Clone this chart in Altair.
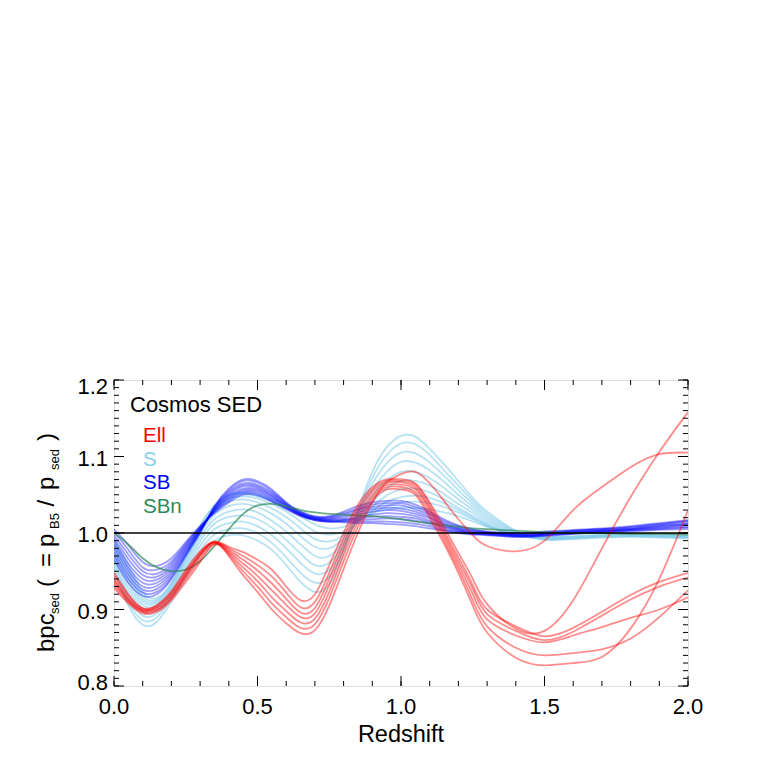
import altair as alt
import pandas as pd

# ---------------- data ----------------
Z = [0.00, 0.05, 0.10, 0.15, 0.20, 0.25, 0.30, 0.35, 0.40, 0.45, 0.50, 0.55,
     0.60, 0.65, 0.70, 0.75, 0.80, 0.85, 0.90, 0.95, 1.00, 1.05, 1.10, 1.15,
     1.20, 1.25, 1.30, 1.40, 1.50, 1.60, 1.70, 1.80, 1.90, 2.00]

ELL = {
    "ell1": [0.935, 0.912, 0.898, 0.900, 0.915, 0.945, 0.972, 0.988, 0.970, 0.945, 0.923, 0.900,
             0.882, 0.869, 0.873, 0.905, 0.953, 1.000, 1.040, 1.066, 1.077, 1.080, 1.065, 1.042,
             1.018, 0.997, 0.983, 0.976, 0.990, 1.030, 1.060, 1.086, 1.103, 1.105],
    "ell2": [0.948, 0.920, 0.902, 0.906, 0.924, 0.952, 0.976, 0.989, 0.982, 0.975, 0.965, 0.952,
             0.930, 0.912, 0.920, 0.958, 1.000, 1.037, 1.060, 1.070, 1.070, 1.065, 1.040, 1.008,
             0.974, 0.940, 0.907, 0.875, 0.872, 0.912, 0.980, 1.047, 1.106, 1.158],
    "ell3": [0.944, 0.918, 0.901, 0.905, 0.922, 0.949, 0.974, 0.988, 0.980, 0.970, 0.958, 0.943,
             0.922, 0.903, 0.910, 0.948, 0.993, 1.032, 1.057, 1.068, 1.068, 1.063, 1.037, 1.003,
             0.968, 0.932, 0.900, 0.878, 0.865, 0.876, 0.897, 0.919, 0.936, 0.948],
    "ell4": [0.940, 0.915, 0.900, 0.903, 0.920, 0.946, 0.972, 0.988, 0.978, 0.965, 0.951, 0.934,
             0.914, 0.896, 0.902, 0.940, 0.986, 1.027, 1.054, 1.066, 1.066, 1.060, 1.033, 0.999,
             0.963, 0.927, 0.894, 0.872, 0.860, 0.871, 0.892, 0.913, 0.930, 0.942],
    "ell5": [0.938, 0.913, 0.899, 0.902, 0.918, 0.943, 0.970, 0.987, 0.976, 0.960, 0.944, 0.925,
             0.906, 0.890, 0.895, 0.932, 0.979, 1.021, 1.050, 1.063, 1.063, 1.057, 1.030, 0.995,
             0.958, 0.920, 0.887, 0.866, 0.857, 0.866, 0.877, 0.889, 0.900, 0.916],
    "ell6": [0.932, 0.910, 0.897, 0.899, 0.915, 0.940, 0.966, 0.986, 0.974, 0.955, 0.937, 0.916,
             0.898, 0.883, 0.888, 0.923, 0.971, 1.015, 1.046, 1.060, 1.060, 1.053, 1.025, 0.990,
             0.953, 0.912, 0.878, 0.850, 0.840, 0.843, 0.848, 0.862, 0.890, 0.925],
    "ell7": [0.928, 0.908, 0.895, 0.897, 0.912, 0.936, 0.962, 0.985, 0.972, 0.950, 0.930, 0.908,
             0.890, 0.876, 0.881, 0.915, 0.963, 1.008, 1.042, 1.057, 1.057, 1.050, 1.020, 0.986,
             0.948, 0.905, 0.870, 0.837, 0.827, 0.830, 0.838, 0.875, 0.940, 1.030],
}

S = {
    "s0": [0.950, 0.905, 0.880, 0.884, 0.910, 0.940, 0.970, 0.990, 0.997, 0.997, 0.990, 0.978,
           0.958, 0.936, 0.923, 0.933, 0.975, 1.030, 1.080, 1.112, 1.127, 1.126, 1.110, 1.090,
           1.068, 1.046, 1.028, 1.003, 0.991, 0.992, 0.994, 0.995, 0.994, 0.993],
    "s1": [0.955, 0.910, 0.886, 0.890, 0.915, 0.946, 0.977, 0.998, 1.005, 1.006, 1.000, 0.987,
           0.968, 0.948, 0.935, 0.943, 0.978, 1.027, 1.072, 1.102, 1.117, 1.116, 1.102, 1.082,
           1.062, 1.042, 1.025, 1.002, 0.992, 0.993, 0.995, 0.996, 0.995, 0.994],
    "s2": [0.960, 0.916, 0.892, 0.895, 0.919, 0.951, 0.983, 1.005, 1.013, 1.015, 1.009, 0.997,
           0.980, 0.961, 0.947, 0.952, 0.982, 1.025, 1.064, 1.091, 1.105, 1.104, 1.092, 1.075,
           1.056, 1.038, 1.022, 1.001, 0.992, 0.993, 0.995, 0.996, 0.995, 0.994],
    "s3": [0.965, 0.922, 0.897, 0.899, 0.922, 0.955, 0.989, 1.012, 1.021, 1.023, 1.018, 1.007,
           0.991, 0.973, 0.958, 0.961, 0.985, 1.022, 1.056, 1.080, 1.093, 1.092, 1.082, 1.067,
           1.050, 1.034, 1.019, 1.000, 0.993, 0.994, 0.996, 0.997, 0.996, 0.995],
    "s4": [0.970, 0.928, 0.902, 0.903, 0.925, 0.959, 0.994, 1.018, 1.028, 1.031, 1.027, 1.016,
           1.002, 0.985, 0.970, 0.970, 0.989, 1.019, 1.048, 1.069, 1.080, 1.080, 1.072, 1.059,
           1.044, 1.030, 1.016, 0.999, 0.993, 0.994, 0.996, 0.997, 0.996, 0.995],
    "s5": [0.975, 0.934, 0.906, 0.906, 0.928, 0.963, 0.999, 1.024, 1.035, 1.038, 1.034, 1.025,
           1.012, 0.996, 0.982, 0.980, 0.993, 1.017, 1.040, 1.058, 1.068, 1.068, 1.062, 1.051,
           1.038, 1.026, 1.013, 0.998, 0.993, 0.994, 0.996, 0.997, 0.996, 0.995],
    "s6": [0.980, 0.940, 0.910, 0.909, 0.930, 0.966, 1.003, 1.029, 1.041, 1.044, 1.040, 1.032,
           1.021, 1.006, 0.992, 0.989, 0.997, 1.015, 1.034, 1.049, 1.057, 1.058, 1.053, 1.044,
           1.033, 1.022, 1.011, 0.997, 0.994, 0.995, 0.997, 0.998, 0.997, 0.996],
    "s7": [0.984, 0.946, 0.914, 0.911, 0.932, 0.968, 1.006, 1.032, 1.045, 1.048, 1.045, 1.038,
           1.028, 1.015, 1.002, 0.998, 1.002, 1.015, 1.029, 1.041, 1.047, 1.049, 1.046, 1.039,
           1.030, 1.020, 1.010, 0.997, 0.994, 0.995, 0.997, 0.998, 0.997, 0.996],
    "s8": [0.988, 0.952, 0.918, 0.913, 0.934, 0.970, 1.008, 1.035, 1.048, 1.051, 1.048, 1.042,
           1.033, 1.022, 1.011, 1.006, 1.008, 1.016, 1.026, 1.035, 1.040, 1.041, 1.039, 1.034,
           1.027, 1.018, 1.009, 0.997, 0.994, 0.995, 0.997, 0.998, 0.997, 0.996],
    "s9": [0.992, 0.958, 0.923, 0.915, 0.935, 0.971, 1.010, 1.036, 1.050, 1.053, 1.050, 1.045,
           1.037, 1.028, 1.020, 1.016, 1.016, 1.020, 1.026, 1.031, 1.033, 1.033, 1.031, 1.027,
           1.022, 1.015, 1.008, 0.998, 0.995, 0.996, 0.998, 0.999, 0.998, 0.997],
}

SB = {
    "b0": [0.965, 0.935, 0.918, 0.920, 0.940, 0.970, 1.000, 1.035, 1.058, 1.070, 1.068, 1.057,
           1.040, 1.028, 1.022, 1.022, 1.028, 1.035, 1.040, 1.042, 1.042, 1.037, 1.028, 1.018,
           1.010, 1.005, 1.002, 1.000, 1.002, 1.004, 1.006, 1.009, 1.013, 1.017],
    "b1": [0.970, 0.940, 0.922, 0.923, 0.942, 0.972, 1.001, 1.034, 1.056, 1.068, 1.066, 1.055,
           1.039, 1.027, 1.021, 1.021, 1.026, 1.032, 1.037, 1.039, 1.039, 1.034, 1.026, 1.016,
           1.009, 1.004, 1.001, 0.999, 1.001, 1.003, 1.005, 1.008, 1.012, 1.016],
    "b2": [0.975, 0.945, 0.926, 0.927, 0.945, 0.974, 1.002, 1.033, 1.054, 1.065, 1.063, 1.053,
           1.038, 1.026, 1.020, 1.020, 1.024, 1.030, 1.034, 1.036, 1.036, 1.031, 1.024, 1.014,
           1.007, 1.003, 1.001, 0.998, 1.000, 1.003, 1.005, 1.007, 1.011, 1.015],
    "b3": [0.980, 0.950, 0.930, 0.931, 0.948, 0.976, 1.003, 1.032, 1.052, 1.063, 1.061, 1.051,
           1.037, 1.025, 1.020, 1.019, 1.022, 1.027, 1.031, 1.033, 1.032, 1.028, 1.021, 1.012,
           1.006, 1.002, 1.000, 0.998, 0.999, 1.002, 1.004, 1.006, 1.010, 1.013],
    "b4": [0.985, 0.955, 0.935, 0.935, 0.951, 0.978, 1.004, 1.031, 1.050, 1.061, 1.059, 1.049,
           1.036, 1.025, 1.019, 1.018, 1.020, 1.024, 1.028, 1.030, 1.029, 1.025, 1.019, 1.011,
           1.005, 1.001, 1.000, 0.997, 0.999, 1.001, 1.003, 1.005, 1.009, 1.012],
    "b5": [0.989, 0.960, 0.940, 0.939, 0.954, 0.980, 1.005, 1.030, 1.048, 1.058, 1.057, 1.048,
           1.035, 1.024, 1.018, 1.017, 1.018, 1.021, 1.024, 1.026, 1.025, 1.022, 1.016, 1.009,
           1.004, 1.000, 0.999, 0.997, 0.998, 1.001, 1.003, 1.005, 1.008, 1.011],
    "b6": [0.993, 0.966, 0.945, 0.943, 0.957, 0.982, 1.006, 1.029, 1.046, 1.056, 1.055, 1.046,
           1.034, 1.024, 1.018, 1.016, 1.017, 1.019, 1.021, 1.022, 1.021, 1.019, 1.014, 1.008,
           1.003, 1.000, 0.999, 0.996, 0.998, 1.000, 1.002, 1.004, 1.007, 1.010],
    "b7": [0.997, 0.972, 0.950, 0.947, 0.960, 0.984, 1.007, 1.028, 1.044, 1.054, 1.053, 1.044,
           1.033, 1.023, 1.017, 1.015, 1.016, 1.017, 1.018, 1.019, 1.018, 1.016, 1.012, 1.006,
           1.002, 0.999, 0.998, 0.996, 0.997, 1.000, 1.002, 1.004, 1.006, 1.008],
    "b8": [1.001, 0.978, 0.955, 0.952, 0.963, 0.986, 1.008, 1.027, 1.042, 1.052, 1.051, 1.042,
           1.032, 1.023, 1.017, 1.015, 1.015, 1.015, 1.015, 1.015, 1.014, 1.012, 1.009, 1.004,
           1.001, 0.999, 0.998, 0.995, 0.997, 0.999, 1.001, 1.003, 1.005, 1.007],
    "b9": [1.005, 0.984, 0.962, 0.957, 0.967, 0.988, 1.009, 1.026, 1.040, 1.050, 1.049, 1.041,
           1.031, 1.022, 1.017, 1.015, 1.014, 1.013, 1.013, 1.012, 1.011, 1.009, 1.006, 1.003,
           1.000, 0.998, 0.997, 0.995, 0.996, 0.999, 1.001, 1.002, 1.004, 1.005],
}

SBN = {
    "n0": [1.000, 0.985, 0.967, 0.955, 0.950, 0.952, 0.963, 0.983, 1.005, 1.025, 1.036, 1.038,
           1.035, 1.030, 1.027, 1.025, 1.024, 1.023, 1.022, 1.020, 1.018, 1.015, 1.013, 1.010,
           1.008, 1.006, 1.005, 1.003, 1.001, 1.000, 1.000, 0.999, 0.999, 0.998],
}

X_TICKS = [0.0, 0.5, 1.0, 1.5, 2.0]
X_LABELS = ["0.0", "0.5", "1.0", "1.5", "2.0"]
Y_TICKS = [0.8, 0.9, 1.0, 1.1, 1.2]
Y_LABELS = ["0.8", "0.9", "1.0", "1.1", "1.2"]
LEGEND = [("Ell", "#ff0000"), ("S", "#87ceeb"), ("SB", "#0000ff"), ("SBn", "#2e8b57")]

# ---------------- layout ----------------
W, H = 574, 306
FONT = "Liberation Sans"
xs = alt.Scale(domain=[0, 2], nice=False, zero=False)
ys = alt.Scale(domain=[0.8, 1.2], nice=False, zero=False)


def family_df(curves):
    rows = []
    for name, vals in curves.items():
        for z, v in zip(Z, vals):
            rows.append({"z": z, "v": v, "curve": name})
    return pd.DataFrame(rows)


def lines(curves, color, opacity, width=1.8):
    return alt.Chart(family_df(curves)).mark_line(
        color=color, opacity=opacity, strokeWidth=width, interpolate="natural", clip=True
    ).encode(
        x=alt.X("z:Q", scale=xs, axis=None),
        y=alt.Y("v:Q", scale=ys, axis=None),
        detail="curve:N",
    )


def tick_rules(vals, length, side):
    d = pd.DataFrame({"t": vals})
    base = alt.Chart(d).mark_rule(color="black", strokeWidth=1)
    if side == "bottom":
        return base.encode(x=alt.X("t:Q", scale=xs, axis=None), y=alt.value(H), y2=alt.value(H - length))
    if side == "top":
        return base.encode(x=alt.X("t:Q", scale=xs, axis=None), y=alt.value(0), y2=alt.value(length))
    if side == "left":
        return base.encode(y=alt.Y("t:Q", scale=ys, axis=None), x=alt.value(0), x2=alt.value(length))
    return base.encode(y=alt.Y("t:Q", scale=ys, axis=None), x=alt.value(W), x2=alt.value(W - length))


x_minor = [round(i * 0.1, 2) for i in range(21)]
y_minor = [round(0.8 + i * 0.01, 2) for i in range(41)]
ticks = [
    tick_rules(X_TICKS, 10, "bottom"), tick_rules(X_TICKS, 10, "top"),
    tick_rules(x_minor, 5, "bottom"), tick_rules(x_minor, 5, "top"),
    tick_rules(Y_TICKS, 10, "left"), tick_rules(Y_TICKS, 10, "right"),
    tick_rules(y_minor, 5, "left"), tick_rules(y_minor, 5, "right"),
]

unity = alt.Chart(pd.DataFrame({"v": [1.0]})).mark_rule(color="black", strokeWidth=1.5).encode(
    y=alt.Y("v:Q", scale=ys, axis=None)
)

# tick labels drawn as text through the scales
xlab = alt.Chart(pd.DataFrame({"t": X_TICKS, "lab": X_LABELS})).mark_text(
    align="center", baseline="alphabetic", font=FONT, fontSize=22, color="black"
).encode(x=alt.X("t:Q", scale=xs, axis=None), y=alt.value(H + 28), text="lab:N")

ydf = pd.DataFrame({"t": Y_TICKS, "lab": Y_LABELS})
ylab_mid = alt.Chart(ydf[(ydf.t > 0.85) & (ydf.t < 1.15)]).mark_text(
    align="right", baseline="middle", font=FONT, fontSize=22, color="black", dy=2
).encode(y=alt.Y("t:Q", scale=ys, axis=None), x=alt.value(-6), text="lab:N")
ylab_top = alt.Chart(ydf[ydf.t > 1.15]).mark_text(
    align="right", baseline="middle", font=FONT, fontSize=22, color="black", dy=7
).encode(y=alt.Y("t:Q", scale=ys, axis=None), x=alt.value(-6), text="lab:N")
ylab_bot = alt.Chart(ydf[ydf.t < 0.85]).mark_text(
    align="right", baseline="middle", font=FONT, fontSize=22, color="black", dy=-3
).encode(y=alt.Y("t:Q", scale=ys, axis=None), x=alt.value(-6), text="lab:N")

texts = [
    alt.Chart(pd.DataFrame({"t": ["Redshift"]})).mark_text(
        align="center", baseline="alphabetic", font=FONT, fontSize=23.5, color="black"
    ).encode(text="t:N", x=alt.value(W / 2), y=alt.value(H + 56)),
    alt.Chart(pd.DataFrame({"t": ["Cosmos SED"]})).mark_text(
        align="left", baseline="alphabetic", font=FONT, fontSize=22, color="black"
    ).encode(text="t:N", x=alt.value(16), y=alt.value(32)),
]
for i, (lab, col) in enumerate(LEGEND):
    texts.append(
        alt.Chart(pd.DataFrame({"t": [lab]})).mark_text(
            align="left", baseline="alphabetic", font=FONT, fontSize=20.5, color=col
        ).encode(text="t:N", x=alt.value(29), y=alt.value(62 + i * 23.5))
    )

# y-axis title with subscripts (rotated pieces)
YT_X_MAIN = -60
YT_X_SUB = -55
pieces = [
    ("bpc", 24, YT_X_MAIN, 272),
    ("sed", 13, YT_X_SUB, 234),
    ("(", 24, YT_X_MAIN, 207),
    ("=", 24, YT_X_MAIN, 187),
    ("p", 24, YT_X_MAIN, 167),
    ("B5", 13, YT_X_SUB, 149),
    ("/", 24, YT_X_MAIN, 126.5),
    ("p", 24, YT_X_MAIN, 110),
    ("sed", 13, YT_X_SUB, 90),
    (")", 24, YT_X_MAIN, 61),
]
for txt, fs, px, py in pieces:
    texts.append(
        alt.Chart(pd.DataFrame({"t": [txt]})).mark_text(
            align="left", baseline="alphabetic", font=FONT, fontSize=fs, color="black", angle=270
        ).encode(text="t:N", x=alt.value(px), y=alt.value(py))
    )

chart = alt.layer(
    lines(S, "#87ceeb", 0.6),
    lines(SB, "#0000ff", 0.38),
    lines(SBN, "#2e8b57", 0.7),
    lines(ELL, "#ff0000", 0.45),
    unity,
    *ticks,
    xlab, ylab_mid, ylab_top, ylab_bot,
    *texts,
).properties(
    width=W, height=H,
    padding={"left": 106, "top": 372, "right": 30, "bottom": 60},
    autosize=alt.AutoSizeParams(type="none"),
).configure_view(stroke="black", strokeWidth=1.5).configure(background="white")

chart.save("out.html", embed_options={"renderer": "svg", "actions": False})
